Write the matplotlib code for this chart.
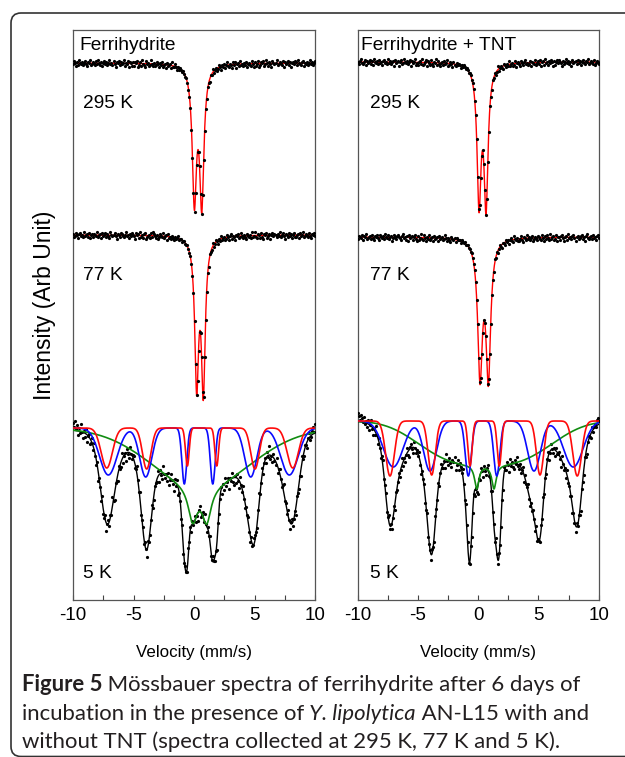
import numpy as np
import matplotlib
matplotlib.use("Agg")
import matplotlib.pyplot as plt
from matplotlib.patches import FancyBboxPatch
from matplotlib.transforms import IdentityTransform
from matplotlib.ticker import MultipleLocator

plt.rcParams['font.family'] = ['Liberation Sans', 'DejaVu Sans']
plt.rcParams['axes.unicode_minus'] = False

# ------------------------------------------------------------------ data
VEL_MIN, VEL_MAX = -10.0, 10.0
X_TICKS = [-10, -5, 0, 5, 10]
X_TICK_LABELS = ["-10", "-5", "0", "5", "10"]
PANEL_TITLES = ["Ferrihydrite", "Ferrihydrite + TNT"]
TEMP_LABELS = ["295 K", "77 K", "5 K"]
X_LABEL = "Velocity (mm/s)"
Y_LABEL = "Intensity (Arb Unit)"

# quadrupole doublets (295 K and 77 K): line positions (mm/s), depths, HWHM
L295_POS = [0.03, 0.64]
L295_DEPTH = [133, 136]
L295_HWHM = [0.21, 0.21]
L77_POS = [0.22, 0.77]
L77_DEPTH = [145, 150]
L77_HWHM = [0.19, 0.19]
R295_POS = [0.07, 0.65]
R295_DEPTH = [136, 138]
R295_HWHM = [0.20, 0.20]
R77_POS = [0.15, 0.84]
R77_DEPTH = [134, 136]
R77_HWHM = [0.23, 0.23]

# 5 K sextets: red and blue components
L5_RED_POS = [-7.21, -3.91, -0.55, 1.88, 5.04, 8.16]
L5_RED_DEPTH = [40, 41, 38, 38, 41, 40]
L5_RED_FWHM = [1.10, 0.83, 0.36, 0.36, 0.83, 1.10]
L5_BLUE_POS = [-7.08, -3.99, -0.80, 1.55, 4.69, 7.88]
L5_BLUE_DEPTH = [47, 49, 56, 56, 49, 47]
L5_BLUE_FWHM = [1.70, 1.18, 0.47, 0.47, 1.18, 1.70]
R5_RED_POS = [-7.32, -3.86, -0.68, 1.75, 5.13, 8.22]
R5_RED_DEPTH = [55, 54, 45, 45, 54, 55]
R5_RED_FWHM = [0.85, 0.70, 0.41, 0.41, 0.70, 0.85]
R5_BLUE_POS = [-7.05, -4.00, -0.82, 1.54, 4.63, 7.89]
R5_BLUE_DEPTH = [46, 50, 55, 55, 50, 46]
R5_BLUE_FWHM = [1.90, 1.25, 0.60, 0.60, 1.25, 1.90]

# 5 K green component: broad band (centre, depth, width, shape power) + doublet
L5_GREEN_BROAD = [0.6, 58, 4.1, 2.0]
L5_GREEN_POS = [-0.11, 1.05]
L5_GREEN_DEPTH = [34, 34]
L5_GREEN_HWHM = [0.45, 0.45]
R5_GREEN_BROAD = [0.6, 44, 5.05, 3.0]
R5_GREEN_POS = [-0.12, 1.31]
R5_GREEN_DEPTH = [23.5, 23.5]
R5_GREEN_HWHM = [0.22, 0.22]

RES_L295 = [
    1, -2, 0, 3, -1, 2, -3, 0, 1, -1, 2, 0, -2, 1, 3, -1, 0, -3, 2, 1,
    -1, 0, 2, -2, 1, -3, 0, 2, -1, 3, 0, -2, 1, -1, 2, 0, -3, 1, 0, 2,
    -2, 1, 3, -1, 0, -2, 2, -1, 1, 0, -3, 2, 0, 1, -2, 3, -1, 0, 2, -1,
    2, -1, 0, -2, 3, 1, -1, 2, -3, 0, 1, 3, -2, 0, -1, 2, 1, -3, 0, 2,
    -1, 2, 1, -2, 0, 3, -1, 1, -2, 2, 0, -1, 3, -2, 1, 0, -1, 2, -3, 1,
    1, -2, 0, 2, -1, 1, -1, 0, 1, -1, 0, 1, -1, 0, 1, 0, -1, 1, 0, -1,
    1, 0, -1, 1, 0, -1, 0, 1, -1, 0, 1, -1, 2, -2, 0, 3, -1, 1, -3, 2,
    0, -1, 2, 1, -2, 0, 3, -1, 1, -2, 2, 0, -3, 1, 2, -1, 0, 3, -2, 1,
    -2, 3, 0, -1, 2, -3, 1, 0, 2, -1, 1, -2, 3, 0, -1, 1, 2, -2, 0, 3,
    -1, 2, 0, -2, 3, 1, -1, 0, -2, 2, 1, -3, 0, 2, -1, 1, 3, -2, 0, 1,
    0, -3, 2, 1, -1, 0, 2, -2, 3, -1, 1, 0, -2, 2, -1, 3, 0, -1, 1, -2,
    -1, 2, -3, 0, 1, 2, -1, -2, 3, 0, 1, -1, 2, 0, -3, 1, -1, 2, 0, -2]
RES_L77 = [
    -1, 2, 1, -2, 0, 3, -1, -2, 1, 0, 2, -3, 1, 0, -1, 2, -2, 3, 0, -1,
    2, -1, 0, 1, -3, 2, 0, -1, 3, -2, 1, 0, -2, 2, -1, 1, 3, -3, 0, 1,
    0, -2, 1, 3, -1, 0, 2, -2, -1, 1, 2, 0, -3, 1, 0, 2, -1, 1, -2, 0,
    1, 3, -2, 0, -1, 2, -3, 1, 0, 2, -1, -2, 3, 1, 0, -1, 2, -2, 1, -3,
    -2, 0, 2, -1, 3, 1, -2, 0, 1, -3, 2, 0, -1, 3, -2, 1, 0, 2, -1, 1,
    2, -1, 1, 0, -2, 1, 0, -1, 1, 0, -1, 1, 0, -1, 0, 1, -1, 0, 1, 0,
    -1, 1, 0, -1, 1, 0, -1, 0, 1, 0, -2, 2, 1, -1, 3, -2, 0, 1, -3, 2,
    1, -2, 0, 3, -1, 2, -3, 1, 0, -1, 2, 1, -2, 0, 3, -1, -2, 2, 0, 1,
    3, -1, 0, -2, 2, 1, -3, 0, 2, -1, 1, 3, -2, 0, 1, -1, 2, -3, 1, 0,
    -3, 1, 2, -1, 0, 2, -2, 1, 3, -1, 0, -2, 2, 1, -1, 3, 0, -2, 1, -1,
    0, 2, -1, 1, -3, 2, 0, -2, 1, 3, -1, 0, 2, -2, 1, -1, 3, 0, -2, 2,
    2, 0, -1, 3, -2, 1, 0, -3, 2, 1, -1, 0, 2, -2, 1, 3, -1, 0, -2, 1]
RES_R295 = [
    0, 2, -1, -3, 1, 2, 0, -2, 3, -1, 1, 0, -2, 2, -1, 3, -3, 0, 1, -1,
    2, -2, 1, 0, 3, -1, -2, 1, 0, 2, -3, 1, -1, 2, 0, -1, 3, -2, 1, 0,
    -1, 3, 0, -2, 2, 1, -3, 0, 1, -1, 2, 0, -2, 3, -1, 1, 0, -3, 2, 1,
    2, 0, -1, 1, -3, 2, 1, 0, -2, 3, -1, 0, 2, -2, 1, 3, -1, 0, -3, 2,
    -2, 1, 3, 0, -1, 2, -2, 1, 0, -3, 2, 1, -1, 0, 3, -2, 1, 2, -1, 0,
    -1, 0, 2, -1, 1, -2, 0, 1, -1, 0, 1, 0, -1, 1, 0, -1, 1, 0, -1, 1,
    0, -1, 1, 0, -1, 1, 0, 1, -1, 0, 2, -2, 1, 3, -1, 0, -2, 2, 1, -3,
    2, 0, -1, 1, 3, -2, 0, 2, -1, 1, -3, 2, 0, -1, 2, 1, -2, 3, 0, -1,
    1, 3, -2, 0, 2, -1, -3, 1, 0, 2, 1, -2, 3, -1, 0, 1, -2, 2, 0, -1,
    1, -2, 3, 0, -1, 2, -3, 1, 0, 2, -1, 1, -2, 0, 3, -1, 2, 0, -2, 1,
    -2, 0, 1, 3, -1, 2, 0, -3, 1, -1, 2, 0, 3, -2, 1, 0, -1, 2, -2, 1,
    -1, 3, 0, -2, 1, 2, -1, 0, -3, 2, 1, -1, 0, 2, -2, 3, 1, -1, 0, 2]
RES_R77 = [
    2, -1, 0, 1, -2, 3, -1, 0, -3, 2, 1, 0, -1, 2, -2, 1, 3, -1, 0, -2,
    1, 3, -2, 0, 1, -1, 2, -3, 0, 1, -2, 2, 0, -1, 3, 1, -2, 0, 2, -1,
    -2, 0, 1, 2, -1, -3, 1, 0, 2, -1, 3, -2, 1, 0, -1, 2, 0, -2, 1, 3,
    -1, 2, 0, -3, 1, 2, -2, 0, 3, -1, 1, -2, 2, 0, -1, 3, -2, 1, 0, -1,
    3, -2, 1, 0, -1, 2, 1, -3, 0, 2, -1, 1, 3, -2, 0, 1, -1, 2, -2, 0,
    0, -1, 2, -1, 0, 1, -1, 1, 0, -1, 1, 0, 1, -1, 0, 1, -1, 0, 1, -1,
    1, 0, -1, 0, 1, -1, 1, 0, -1, 1, -2, 1, 3, -1, 0, 2, -3, 1, -1, 2,
    0, -2, 1, 3, -1, 0, 2, -2, 1, -1, 3, 0, -2, 1, 2, -3, 0, 1, -1, 2,
    2, 0, -2, 1, 3, -1, 0, 2, -3, 1, -1, 2, 0, -2, 3, 1, -1, 0, 2, -2,
    -1, 1, 2, -2, 0, 3, -1, 1, -2, 0, 2, -3, 1, 0, -1, 2, 1, -2, 3, 0,
    0, 2, -1, -2, 1, 3, 0, -1, 2, -3, 1, 0, 2, -1, -2, 1, 3, 0, -1, 2,
    1, -1, -2, 2, 0, 3, -1, -3, 1, 2, 0, -1, 2, -2, 1, 0, 3, -1, -2, 1]
RES_L5 = [
    -4, -2, -5, -1, -3, 2, -2, 1, -4, 0, 3, -1, 2, -3, 4, 0, -2, 3, 1, -3,
    2, -4, 1, 3, -2, 5, -1, 0, 3, -4, 2, 1, -3, 4, 0, -2, 3, -1, 2, -5,
    1, 4, -2, 0, 3, -3, 1, 2, -4, 3, 0, -1, 4, -2, 1, 3, -3, 0, 2, -1,
    -2, 3, 1, -4, 0, 2, -3, 4, 1, -1, 3, -2, 0, 4, -3, 1, 2, -1, -4, 3,
    3, -1, 0, 2, -3, 4, -2, 1, 3, -4, 0, 2, -1, 3, -2, 4, 1, -3, 0, 2,
    5, -2, 1, -3, 4, 0, -1, 2, -4, 3, 1, -2, 0, 3, -3, 2, -1, 4, -2, 1,
    -3, 2, 0, 4, -1, -3, 3, 1, -2, 2, -4, 0, 3, -1, 2, -2, 4, 1, -3, 0,
    2, -1, 3, -4, 1, 0, -2, 4, -1, 3, -3, 2, 0, -2, 5, -1, 1, -3, 2, 4,
    -1, 3, -2, 1, 4, -3, 0, 2, -4, 1, 3, -1, 0, -3, 2, 4, -2, 1, 0, -3,
    -2, 0, 3, -1, -4, 2, 1, -3, 4, 0, -1, 3, -2, 1, -5, 2, 0, 3, -2, 1,
    2, -3, 4, 0, -2, 1, 3, -1, -4, 2, 0, 3, -2, 1, 4, -1, -3, 2, 0, -2,
    4, -3, 0, 2, -1, 3, -4, 1, 2, -2, 0, 3, -1, -3, 2, 1, -2, -4, -1, -5]
RES_R5 = [
    -5, -3, -1, -4, -2, 0, -3, 1, -1, 2, -2, 3, 0, -3, 1, 4, -1, 2, -4, 0,
    3, -2, 1, 4, -1, -3, 2, 0, -2, 3, 1, -4, 2, -1, 3, 0, -3, 4, -2, 1,
    0, -2, 3, 1, -4, 2, -1, 3, 0, -3, 2, 4, -1, -2, 1, 3, -3, 0, 2, -1,
    1, -3, 2, 4, -1, 0, -2, 3, 1, -4, 2, 0, -1, 3, -2, 1, 4, -3, 0, 2,
    -2, 4, 0, -3, 1, 2, -1, 3, -4, 0, 2, -2, 1, 3, -1, 0, -3, 4, 1, -2,
    3, -1, 0, 2, -3, 1, 4, -2, 0, -1, 3, 1, -4, 2, 0, -2, 3, -1, 1, 4,
    -1, 2, -3, 0, 4, -2, 1, 3, -1, -3, 2, 0, 4, -2, 1, -1, 3, -4, 0, 2,
    -3, 0, 2, -1, 3, -4, 1, 2, -2, 0, 4, -3, 1, -1, 2, 3, -2, 0, -4, 1,
    2, -1, 3, 0, -3, 4, -2, 1, 0, -4, 2, 3, -1, 1, -2, 0, 3, -3, 2, -1,
    0, 3, -2, 1, -4, 2, 0, 3, -1, -2, 4, 1, -3, 0, 2, -1, 3, -2, 1, 0,
    -2, 1, 4, -3, 0, 2, -1, 3, -4, 1, 0, 2, -2, 3, -1, 1, 4, -2, 0, -3,
    1, 4, -2, 0, 2, -3, 1, 3, -1, -2, 0, 2, -3, 1, -1, -2, 0, -3, -4, -2]
NOISE_SCALE_DOUBLET = 1.1
NOISE_SCALE_5K = 1.8

CAPTION_LINES = [
    [("Figure 5", "bold", "normal"),
     (" Mössbauer spectra of ferrihydrite after 6 days of", "normal", "normal")],
    [("incubation in the presence of", "normal", "normal"),
     (" Y. lipolytica", "normal", "italic"),
     (" AN-L15 with and", "normal", "normal")],
    [("without TNT (spectra collected at 295 K, 77 K and 5 K).", "normal", "normal")],
]

# ------------------------------------------------------------------ models
def lorentz(v, pos, depth, hwhm):
    out = np.zeros_like(v, dtype=float)
    for c, d, g in zip(pos, depth, hwhm):
        out += d / (1.0 + ((v - c) / g) ** 2)
    return out


def gauss_lines(v, pos, depth, fwhm):
    out = np.zeros_like(v, dtype=float)
    for c, d, w in zip(pos, depth, fwhm):
        s = w / 2.3548
        out += d * np.exp(-0.5 * ((v - c) / s) ** 2)
    return out


def broad_band(v, params):
    c, d, w, p = params
    return d * np.exp(-0.5 * (np.abs(v - c) / w) ** p)


# ------------------------------------------------------------------ layout
W, H = 625, 757
fig = plt.figure(figsize=(W / 100, H / 100), dpi=100)


def rect(x0, x1, y0, y1):
    return [x0 / W, 1 - y1 / H, (x1 - x0) / W, (y1 - y0) / H]


axL = fig.add_axes(rect(73, 315, 30, 600))
axR = fig.add_axes(rect(357.7, 598.7, 30, 600))

BASE_L = [63, 235, 428]
BASE_R = [62, 237, 421]

vf = np.linspace(VEL_MIN, VEL_MAX, 1500)

panels = [
    (axL, BASE_L,
     [(L295_POS, L295_DEPTH, L295_HWHM, RES_L295), (L77_POS, L77_DEPTH, L77_HWHM, RES_L77)],
     (L5_RED_POS, L5_RED_DEPTH, L5_RED_FWHM), (L5_BLUE_POS, L5_BLUE_DEPTH, L5_BLUE_FWHM),
     (L5_GREEN_BROAD, L5_GREEN_POS, L5_GREEN_DEPTH, L5_GREEN_HWHM), RES_L5),
    (axR, BASE_R,
     [(R295_POS, R295_DEPTH, R295_HWHM, RES_R295), (R77_POS, R77_DEPTH, R77_HWHM, RES_R77)],
     (R5_RED_POS, R5_RED_DEPTH, R5_RED_FWHM), (R5_BLUE_POS, R5_BLUE_DEPTH, R5_BLUE_FWHM),
     (R5_GREEN_BROAD, R5_GREEN_POS, R5_GREEN_DEPTH, R5_GREEN_HWHM), RES_R5),
]

for ax, base, doublets, red, blue, green, res5 in panels:
    for b, (pos, dep, hw, res) in zip(base[:2], doublets):
        vch = np.linspace(VEL_MIN, VEL_MAX, len(res))
        ych = b + lorentz(vch, pos, dep, hw) + NOISE_SCALE_DOUBLET * np.array(res)
        ax.plot(vf, b + lorentz(vf, pos, dep, hw), color='#ff0000', lw=1.0, zorder=2)
        ax.plot(vch, ych, 'o', ms=2.3, color='black', mec='none', zorder=3)

    b = base[2]

    def comps(v):
        r = gauss_lines(v, *red)
        bl = gauss_lines(v, *blue)
        g = broad_band(v, green[0]) + lorentz(v, green[1], green[2], green[3])
        return r, bl, g

    r, bl, g = comps(vf)
    vch = np.linspace(VEL_MIN, VEL_MAX, len(res5))
    rc, blc, gc = comps(vch)
    ych = b + rc + blc + gc + NOISE_SCALE_5K * np.array(res5)
    ax.plot(vch, ych, 'o', ms=2.3, color='black', mec='none', zorder=3)
    ax.plot(vf, b + r + bl + g, color='black', lw=1.0, zorder=4)
    ax.plot(vf, b + g, color='#118c11', lw=1.2, zorder=5)
    ax.plot(vf, b + bl, color='#0a0aff', lw=1.2, zorder=6)
    ax.plot(vf, b + r, color='#ff0a0a', lw=1.2, zorder=7)

    ax.set_xlim(VEL_MIN, VEL_MAX)
    ax.set_ylim(600, 30)
    ax.set_yticks([])
    ax.set_xticks(X_TICKS)
    ax.set_xticklabels(X_TICK_LABELS)
    ax.xaxis.set_minor_locator(MultipleLocator(2.5))
    ax.tick_params(axis='x', which='both', direction='in', length=3.6, width=0.8,
                   top=False, labelsize=13.5, pad=5, color='#444444')
    for sp in ax.spines.values():
        sp.set_color('#555555')
        sp.set_linewidth(0.9)

# panel texts
axL.text(-9.45, 45, PANEL_TITLES[0], fontsize=13.8, va='center', ha='left')
axR.text(-9.7, 45, PANEL_TITLES[1], fontsize=13.8, va='center', ha='left')
for ax, xs in ((axL, -9.2), (axR, -9.0)):
    for lab, yc in zip(TEMP_LABELS, [104, 275, 573]):
        ax.text(xs, yc, lab, fontsize=13.8, va='center', ha='left')

for xc in ((73 + 315) / 2, (357.7 + 598.7) / 2):
    fig.text(xc / W, 1 - 652 / H, X_LABEL, fontsize=12.2, ha='center', va='center')
fig.text(45 / W, 1 - 305 / H, Y_LABEL, fontsize=16.5, rotation=90, ha='center', va='center')

# border
fig.add_artist(FancyBboxPatch((11, 0.5), 800, H - 13 - 0.5,
                              boxstyle='round,pad=0,rounding_size=10',
                              transform=IdentityTransform(), fill=False,
                              ec='#333333', lw=1.2))

# caption
renderer = fig.canvas.get_renderer()
CAP_FAMILY = ['Lato', 'DejaVu Sans']


def line_width(parts, fs):
    x = 0.0
    arts = []
    for s, w, st in parts:
        t = fig.text(0, 0, s, fontsize=fs, fontweight=w, fontstyle=st, family=CAP_FAMILY)
        x += t.get_window_extent(renderer).width
        arts.append(t)
    for t in arts:
        t.remove()
    return x


cap_fs = 10 * 562 / line_width(CAPTION_LINES[0], 10)
for parts, row in zip(CAPTION_LINES, [691, 719.5, 748]):
    x = 22.0
    for s, w, st in parts:
        t = fig.text(x / W, 1 - row / H, s, fontsize=cap_fs, fontweight=w, fontstyle=st,
                     family=CAP_FAMILY, color='#231f20', va='baseline', ha='left')
        x = t.get_window_extent(renderer).x1

fig.savefig('out.png', dpi=100)
